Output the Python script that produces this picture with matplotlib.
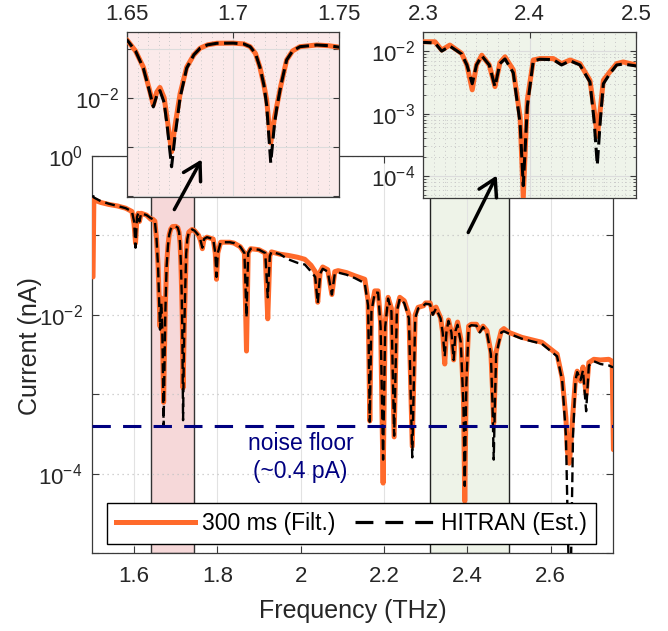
import matplotlib
matplotlib.use('Agg')
import matplotlib.pyplot as plt
import matplotlib.ticker as mticker
from matplotlib.lines import Line2D
from matplotlib.patches import FancyArrowPatch

plt.rcParams.update({
    'font.family': ['Liberation Sans', 'DejaVu Sans'],
    'mathtext.fontset': 'custom',
    'mathtext.rm': 'Liberation Sans',
    'mathtext.it': 'Liberation Sans:italic',
    'mathtext.bf': 'Liberation Sans:bold',
    'font.size': 16,
})

# ---- data (THz, nA) ----
FREQ = [1.5015, 1.5035, 1.52, 1.54, 1.56, 1.58, 1.595, 1.600, 1.6036, 1.607,
        1.610, 1.613, 1.617, 1.63, 1.640, 1.645, 1.650, 1.654, 1.6577, 1.6605,
        1.6624, 1.6640, 1.6655, 1.6675, 1.669, 1.671, 1.6725, 1.675, 1.6781, 1.6815,
        1.6844, 1.688, 1.6923, 1.700, 1.705, 1.708, 1.7105, 1.7126, 1.7145, 1.7158,
        1.7177, 1.7195, 1.7205, 1.7225, 1.7252, 1.728, 1.7315, 1.7394, 1.745, 1.755,
        1.760, 1.764, 1.768, 1.775, 1.790, 1.795, 1.798, 1.801, 1.808, 1.83,
        1.84, 1.855, 1.865, 1.870, 1.874, 1.88, 1.90, 1.915, 1.921, 1.926,
        1.93, 1.95, 1.97, 1.993, 2.01, 2.025, 2.035, 2.041, 2.047, 2.053,
        2.065, 2.075, 2.082, 2.09, 2.11, 2.13, 2.154, 2.162, 2.166, 2.170,
        2.178, 2.186, 2.192, 2.198, 2.203, 2.210, 2.218, 2.2245, 2.231, 2.238,
        2.249, 2.260, 2.268, 2.275, 2.282, 2.295, 2.300, 2.311, 2.3173, 2.325,
        2.336, 2.341, 2.346, 2.350, 2.355, 2.362, 2.3674, 2.372, 2.3768, 2.3846,
        2.391, 2.394, 2.3978, 2.4034, 2.4097, 2.4222, 2.430, 2.438, 2.4473, 2.4567,
        2.4605, 2.4636, 2.4665, 2.4693, 2.4756, 2.4818, 2.488, 2.500, 2.531, 2.5795,
        2.6157, 2.628, 2.637, 2.640, 2.645, 2.648, 2.654, 2.660, 2.664, 2.672,
        2.678, 2.6855, 2.692, 2.704, 2.72, 2.74, 2.748, 2.751]

FILT = [0.030, 0.28, 0.26, 0.245, 0.235, 0.22, 0.20, 0.14, 0.08, 0.17,
        0.19, 0.15, 0.19, 0.18, 0.16, 0.16, 0.151, 0.09, 0.042, 0.015,
        7.1e-3, 0.013, 0.0162, 0.010, 3.5e-3, 7.9e-4, 2.5e-3, 0.012, 0.042, 0.075,
        0.102, 0.12, 0.129, 0.130, 0.125, 0.11, 0.08, 0.042, 0.018, 8.9e-3,
        1.2e-3, 4e-3, 6.6e-3, 0.018, 0.059, 0.09, 0.11, 0.119, 0.115, 0.10,
        0.085, 0.068, 0.09, 0.095, 0.09, 0.06, 0.028, 0.06, 0.082, 0.082,
        0.080, 0.072, 0.06, 3.5e-3, 0.06, 0.068, 0.066, 0.06, 8.9e-3, 0.055,
        0.062, 0.058, 0.056, 0.053, 0.05, 0.042, 0.035, 0.0144, 0.035, 0.040,
        0.037, 0.018, 0.035, 0.036, 0.034, 0.031, 0.028, 0.015, 4.6e-4, 0.012,
        0.020, 0.020, 0.008, 7.6e-5, 0.008, 0.0166, 0.012, 2.9e-4, 0.012, 0.0166,
        0.015, 0.010, 2.2e-4, 0.010, 0.0124, 0.013, 0.0141, 0.0141, 0.0104, 0.0125,
        9.2e-3, 6e-3, 2.4e-3, 6e-3, 8.6e-3, 6e-3, 2.7e-3, 6.5e-3, 8.1e-3, 5e-3,
        8.9e-4, 4.5e-5, 1.65e-3, 7.2e-3, 7.6e-3, 7.6e-3, 6.3e-3, 7.2e-3, 6.3e-3, 3.4e-3,
        1.2e-3, 4.3e-4, 1.2e-3, 3.4e-3, 4.7e-3, 6.3e-3, 6.7e-3, 6e-3, 5.2e-3, 4.5e-3,
        3.2e-3, 1.6e-3, 5e-4, 2e-4, 1.35e-4, 2e-4, 6e-4, 1.6e-3, 1.95e-3, 1.46e-3,
        2.2e-3, 1.0e-3, 2.5e-3, 2.75e-3, 2.7e-3, 2.75e-3, 2.6e-3, 2e-4]

HITRAN = [0.32, 0.30, 0.27, 0.25, 0.235, 0.22, 0.20, 0.15, 0.07, 0.17,
          0.19, 0.15, 0.19, 0.18, 0.165, 0.16, 0.151, 0.09, 0.040, 0.014,
          6.5e-3, 0.011, 0.014, 0.008, 2.5e-3, 3.9e-4, 1.5e-3, 0.010, 0.040, 0.075,
          0.102, 0.12, 0.129, 0.130, 0.125, 0.11, 0.08, 0.042, 0.018, 7e-3,
          4.7e-4, 3e-3, 6e-3, 0.018, 0.059, 0.09, 0.11, 0.119, 0.115, 0.10,
          0.085, 0.07, 0.09, 0.095, 0.09, 0.06, 0.03, 0.06, 0.082, 0.082,
          0.080, 0.072, 0.06, 9.3e-3, 0.06, 0.068, 0.066, 0.06, 0.0166, 0.055,
          0.062, 0.058, 0.050, 0.045, 0.043, 0.035, 0.030, 0.014, 0.033, 0.038,
          0.035, 0.018, 0.033, 0.034, 0.032, 0.029, 0.025, 0.013, 4.5e-4, 0.011,
          0.019, 0.019, 0.007, 1.5e-4, 0.007, 0.016, 0.011, 3e-4, 0.011, 0.016,
          0.014, 0.009, 1.6e-4, 0.009, 0.012, 0.013, 0.0138, 0.0135, 0.0100, 0.012,
          9e-3, 6e-3, 3.0e-3, 6e-3, 8.4e-3, 6e-3, 2.7e-3, 6.3e-3, 7.5e-3, 4.5e-3,
          7e-4, 7e-5, 1.3e-3, 7e-3, 7.4e-3, 7.3e-3, 6e-3, 7e-3, 6e-3, 3.2e-3,
          8e-4, 1.5e-4, 8e-4, 3e-3, 4.4e-3, 6e-3, 6.2e-3, 5.8e-3, 5e-3, 4.3e-3,
          3e-3, 1.5e-3, 3e-4, 5e-5, 3e-6, 3e-6, 3e-4, 1.5e-3, 1.9e-3, 1.5e-3,
          2.0e-3, 6.1e-4, 2.3e-3, 2.6e-3, 2.4e-3, 2.3e-3, 2.2e-3, 2.2e-3]

NOISE_FLOOR = 4e-4
ZOOM_BANDS = [(1.64, 1.745), (2.31, 2.50)]

ORANGE = '#ff6a2b'
NAVY = '#000080'
TXT = '#262626'
SPINE = '#3a3a3a'


def style_spines(ax):
    for s in ax.spines.values():
        s.set_color(SPINE)
        s.set_linewidth(0.9)


def pow_label(e):
    return f'$10^{{{e}}}$'


fig = plt.figure(figsize=(6.68, 6.31), dpi=100)

# ---- main axes ----
ax = fig.add_axes([92.4 / 668, 1 - 553 / 631, 520.6 / 668, 397 / 631])
ax.axvspan(*ZOOM_BANDS[0], facecolor='#f6d8d9', edgecolor='#333333', lw=1.0, zorder=1)
ax.axvspan(*ZOOM_BANDS[1], facecolor='#eef3e8', edgecolor='#222222', lw=1.0, zorder=1)
ax.plot(FREQ, FILT, color=ORANGE, lw=3.6, solid_capstyle='round',
        solid_joinstyle='round', zorder=3)
ax.plot(FREQ, HITRAN, color='black', lw=1.7, dashes=(4.2, 2.1), zorder=4)
ax.axhline(NOISE_FLOOR, color=NAVY, lw=2.2, dashes=(6, 4), zorder=5)
ax.text(2.0, 2.0e-4, 'noise floor', ha='center', va='baseline', color=NAVY, fontsize=16.5)
ax.text(2.0, 8.9e-5, '(~0.4 pA)', ha='center', va='baseline', color=NAVY, fontsize=16.5)

ax.set_yscale('log')
ax.set_xlim(1.5, 2.75)
ax.set_ylim(1e-5, 1)
ax.set_xticks([1.6, 1.8, 2.0, 2.2, 2.4, 2.6])
ax.set_xticklabels(['1.6', '1.8', '2', '2.2', '2.4', '2.6'])
exps = list(range(-5, 1))
ax.set_yticks([10.0 ** e for e in exps])
ax.set_yticklabels(['' if e % 2 else pow_label(e) for e in exps])
ax.yaxis.set_minor_locator(mticker.NullLocator())
ax.tick_params(direction='in', top=True, right=True, length=5, width=0.8,
               color=SPINE, labelcolor=TXT, labelsize=16)
ax.tick_params(axis='x', pad=9)
ax.tick_params(axis='y', pad=7)
ax.grid(axis='x', color='#e2e2e2', lw=0.8, ls='-')
ax.grid(axis='y', color='#c4c4c4', lw=0.9, ls=(0, (1, 3)))
style_spines(ax)
ax.set_xlabel('Frequency (THz)', fontsize=18, color=TXT)
ax.set_ylabel('Current (nA)', fontsize=18, color=TXT)
ax.xaxis.set_label_coords(0.5, -0.117)
ax.yaxis.set_label_coords(-0.097, 0.52)

handles = [Line2D([], [], color=ORANGE, lw=3.6),
           Line2D([], [], color='black', lw=2.3, dashes=(5.6, 3.75))]
leg = ax.legend(handles, ['300 ms (Filt.)', 'HITRAN (Est.)'],
                loc='lower center', bbox_to_anchor=(0.498, 0.022), ncol=2,
                fontsize=16.5, handlelength=3.45, handletextpad=0.3, columnspacing=0.85,
                borderpad=0.4, borderaxespad=0, fancybox=False, framealpha=1,
                edgecolor='black')
leg.get_frame().set_linewidth(1.0)


def inset(rect, face, xlim, ylim, xticks, xlabels, yticks, ylabels, xminor):
    a = fig.add_axes(rect)
    a.set_facecolor(face)
    a.plot(FREQ, FILT, color=ORANGE, lw=3.6, solid_capstyle='round',
           solid_joinstyle='round', zorder=3)
    a.plot(FREQ, HITRAN, color='black', lw=2.2, dashes=(4.4, 1.8), zorder=4)
    a.set_yscale('log')
    a.set_xlim(*xlim)
    a.set_ylim(*ylim)
    a.xaxis.tick_top()
    a.set_xticks(xticks)
    a.set_xticklabels(xlabels)
    a.xaxis.set_minor_locator(mticker.MultipleLocator(xminor))
    a.set_yticks(yticks)
    a.set_yticklabels(ylabels)
    a.yaxis.set_minor_locator(mticker.LogLocator(base=10, subs=range(2, 10)))
    a.yaxis.set_minor_formatter(mticker.NullFormatter())
    a.tick_params(which='both', direction='in', top=True, bottom=False,
                  right=True, color=SPINE, labelcolor=TXT, labelsize=16)
    a.tick_params(which='major', length=4, width=0.8)
    a.tick_params(which='minor', length=2, width=0.6)
    a.tick_params(axis='x', which='minor', length=0)
    a.tick_params(axis='x', pad=5)
    a.tick_params(axis='y', pad=6)
    a.grid(which='major', color='#dcdcdc', lw=0.8, ls='-')
    a.grid(which='minor', color='#c8c8c8', lw=0.7, ls=(0, (1, 3)))
    style_spines(a)
    return a


inset([127 / 668, 1 - 197.3 / 631, 212.3 / 668, 165 / 631], '#fbeaea',
      (1.65, 1.75), (9.3e-5, 0.216),
      [1.65, 1.7, 1.75], ['1.65', '1.7', '1.75'],
      [1e-4, 1e-3, 1e-2, 1e-1], ['', '', pow_label(-2), ''], 0.005)
inset([423.3 / 668, 1 - 198.3 / 631, 212.7 / 668, 166 / 631], '#eff4ea',
      (2.3, 2.5), (4.4e-5, 0.02),
      [2.3, 2.4, 2.5], ['2.3', '2.4', '2.5'],
      [1e-4, 1e-3, 1e-2], [pow_label(-4), pow_label(-3), pow_label(-2)], 0.01)

# arrows from the shaded bands to the zoomed insets
for tail, head in [((173, 212), (203, 157)), ((467, 235), (498, 173))]:
    fig.add_artist(FancyArrowPatch(
        (tail[0] / 668, 1 - tail[1] / 631), (head[0] / 668, 1 - head[1] / 631),
        transform=fig.transFigure, arrowstyle='->,head_length=0.6,head_width=0.35',
        mutation_scale=20, lw=2.5, color='black', zorder=10))

fig.savefig('out.png', dpi=100)
